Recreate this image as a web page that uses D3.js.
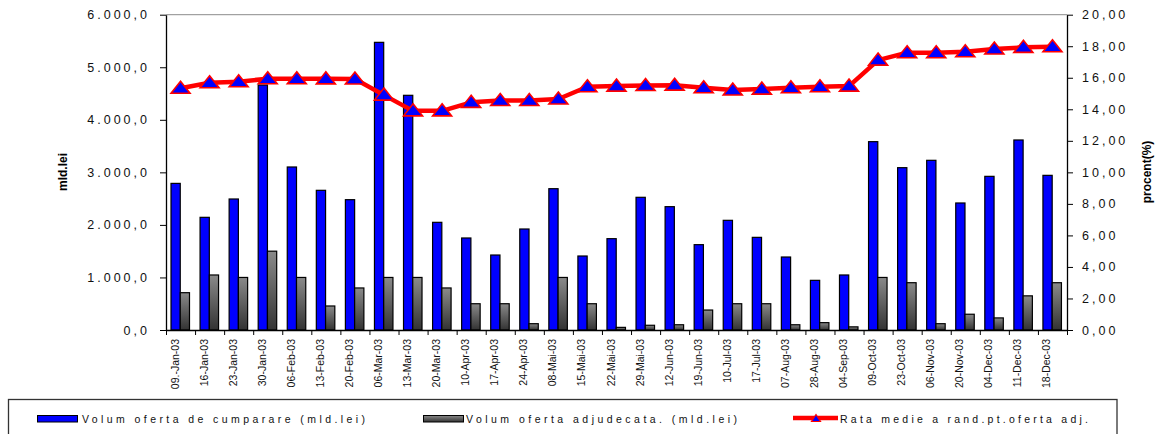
<!DOCTYPE html>
<html>
<head>
<meta charset="utf-8">
<script src="https://cdn.jsdelivr.net/npm/d3@7"></script>
<style>
  html, body { margin: 0; padding: 0; background: #fff; }
  svg { display: block; font-family: Arial, "Liberation Sans", sans-serif; }
</style>
</head>
<body>
<svg id="chart" width="1157" height="434"></svg>
<script>
const categories = ["09.-Jan-03","16-Jan-03","23-Jan-03","30-Jan-03","06-Feb-03","13-Feb-03","20-Feb-03","06-Mar-03","13-Mar-03","20-Mar-03","10-Apr-03","17-Apr-03","24-Apr-03","08-Mai-03","15-Mai-03","22-Mai-03","29-Mai-03","12-Jun-03","19-Jun-03","10-Jul-03","17-Jul-03","07-Aug-03","28-Aug-03","04-Sep-03","09-Oct-03","23-Oct-03","06-Nov-03","20-Nov-03","04-Dec-03","11-Dec-03","18-Dec-03"];
const volumCumparare = [2790,2144,2493,4662,3102,2658,2480,5474,4466,2049,1751,1427,1922,2689,1408,1738,2525,2347,1624,2087,1763,1389,945,1047,3584,3089,3229,2417,2924,3616,2943];
const volumAdjudecat = [710,1047,1000,1500,1000,457,800,1000,1000,800,500,500,120,1000,500,50,90,100,380,500,500,100,140,60,1000,900,120,300,230,650,900];
const rataMedie = [15.33,15.68,15.75,15.94,15.94,15.93,15.92,14.9,13.9,13.9,14.44,14.56,14.56,14.65,15.43,15.47,15.51,15.53,15.37,15.22,15.28,15.37,15.43,15.47,17.12,17.59,17.59,17.65,17.82,17.93,17.97];
const leftTicks = [0,1000,2000,3000,4000,5000,6000];
const leftTickLabels = ["0,0","1.000,0","2.000,0","3.000,0","4.000,0","5.000,0","6.000,0"];
const rightTicks = [0,2,4,6,8,10,12,14,16,18,20];
const rightTickLabels = ["0,00","2,00","4,00","6,00","8,00","10,00","12,00","14,00","16,00","18,00","20,00"];
const seriesNames = ["Volum oferta de cumparare (mld.lei)","Volum  oferta adjudecata. (mld.lei)","Rata medie a rand.pt.oferta adj."];
const leftTitle = "mld.lei";
const rightTitle = "procent(%)";

const svg = d3.select("#chart");
const L = 166, R = 1067, T = 14.7, B = 330;

const defs = svg.append("defs");
const grad = defs.append("linearGradient").attr("id","grayGrad").attr("x1",0).attr("y1",0).attr("x2",0).attr("y2",1);
grad.append("stop").attr("offset","0%").attr("stop-color","#8a8a8a");
grad.append("stop").attr("offset","100%").attr("stop-color","#333333");

const x = d3.scaleBand().domain(categories).range([L, R]).padding(0);
const sub = d3.scaleBand().domain(["c","a"]).range([5, 23.5]).padding(0);
const xIdx = d3.scaleLinear().domain([0, categories.length]).range([L, R]);
const yL = d3.scaleLinear().domain([0, 6000]).range([B, T]);
const yR = d3.scaleLinear().domain([0, 20]).range([B, T]);

// top border line
svg.append("line").attr("x1", L).attr("x2", R).attr("y1", T).attr("y2", T)
  .attr("stroke", "#8c8c8c").attr("stroke-width", 1);

// bars
const groups = svg.append("g").selectAll("g").data(categories).join("g")
  .attr("transform", d => `translate(${x(d)},0)`);
groups.append("rect")
  .attr("x", sub("c")).attr("width", sub.bandwidth())
  .attr("y", (d,i) => yL(volumCumparare[i])).attr("height", (d,i) => B - yL(volumCumparare[i]))
  .attr("fill", "#0000ff").attr("stroke", "#000").attr("stroke-width", 1.2);
groups.append("rect")
  .attr("x", sub("a")).attr("width", sub.bandwidth())
  .attr("y", (d,i) => yL(volumAdjudecat[i])).attr("height", (d,i) => B - yL(volumAdjudecat[i]))
  .attr("fill", "url(#grayGrad)").attr("stroke", "#000").attr("stroke-width", 1.2);

// axes
const axL = svg.append("g").attr("transform", `translate(${L},0)`)
  .call(d3.axisLeft(yL).tickValues(leftTicks).tickFormat((d,i) => leftTickLabels[i]).tickSize(6).tickSizeOuter(0).tickPadding(10));
const axR = svg.append("g").attr("transform", `translate(${R},0)`)
  .call(d3.axisRight(yR).tickValues(rightTicks).tickFormat((d,i) => rightTickLabels[i]).tickSize(6).tickSizeOuter(0).tickPadding(9));
const axB = svg.append("g").attr("transform", `translate(0,${B})`)
  .call(d3.axisBottom(xIdx).tickValues(d3.range(categories.length + 1)).tickFormat("").tickSize(5).tickSizeOuter(0));
[axL, axR, axB].forEach(a => {
  a.select(".domain").attr("stroke", "#000").attr("stroke-width", 1.3);
  a.selectAll(".tick line").attr("stroke", "#000").attr("stroke-width", 1);
});
[axL, axR].forEach(a => a.selectAll(".tick text")
  .attr("font-size", "12.5px").attr("fill", "#111").style("letter-spacing", "3px")
  .attr("font-family", "Arial, 'Liberation Sans', sans-serif"));

// category labels
svg.append("g").selectAll("text").data(categories).join("text")
  .attr("transform", d => `translate(${x(d) + x.bandwidth()/2 - 2},339) rotate(-90)`)
  .attr("text-anchor", "end")
  .attr("font-size", "10.5px").attr("fill", "#111")
  .text(d => d);

// axis titles
svg.append("text").attr("transform", "translate(67,172) rotate(-90)")
  .attr("text-anchor", "middle").attr("font-weight", "bold").attr("font-size", "12px").text(leftTitle);
svg.append("text").attr("transform", "translate(1151,172) rotate(-90)")
  .attr("text-anchor", "middle").attr("font-weight", "bold").attr("font-size", "12px").text(rightTitle);

// line
const cx = (d) => x(d) + x.bandwidth()/2;
const line = d3.line().x((d,i) => cx(categories[i])).y(d => yR(d));
svg.append("path").datum(rataMedie).attr("d", line)
  .attr("fill", "none").attr("stroke", "#ff0000").attr("stroke-width", 4.5).attr("stroke-linejoin", "round");
const tri = "M0,-7L9.5,5L-9.5,5Z";
svg.append("g").selectAll("path").data(rataMedie).join("path")
  .attr("transform", (d,i) => `translate(${cx(categories[i])},${yR(d)})`)
  .attr("d", tri).attr("fill", "#0000ff").attr("stroke", "#ff0000").attr("stroke-width", 1.6).attr("stroke-linejoin", "miter");

// legend
svg.append("rect").attr("x", 8.5).attr("y", 399.5).attr("width", 1108.5).attr("height", 60)
  .attr("fill", "none").attr("stroke", "#333").attr("stroke-width", 1.3);
const lg = svg.append("g");
lg.append("rect").attr("x", 37.5).attr("y", 415.5).attr("width", 40).attr("height", 6.5)
  .attr("fill", "#0000ff").attr("stroke", "#000").attr("stroke-width", 1);
lg.append("rect").attr("x", 423.5).attr("y", 415.5).attr("width", 40).attr("height", 6.5)
  .attr("fill", "url(#grayGrad)").attr("stroke", "#000").attr("stroke-width", 1);
lg.append("line").attr("x1", 793).attr("x2", 838).attr("y1", 418).attr("y2", 418)
  .attr("stroke", "#ff0000").attr("stroke-width", 4.3);
lg.append("path").attr("transform", "translate(816,418.5)").attr("d", "M0,-4L4.5,3L-4.5,3Z")
  .attr("fill", "#0000ff").attr("stroke", "#ff0000").attr("stroke-width", 1.2);
const legText = [[82, 283], [466, 271], [840, 248]];
lg.selectAll("text.leg").data(seriesNames).join("text").attr("class", "leg")
  .attr("x", (d,i) => legText[i][0]).attr("y", 423)
  .attr("textLength", (d,i) => legText[i][1]).attr("lengthAdjust", "spacing")
  .attr("font-size", "10.5px").attr("fill", "#111")
  .text(d => d);
</script>
</body>
</html>
